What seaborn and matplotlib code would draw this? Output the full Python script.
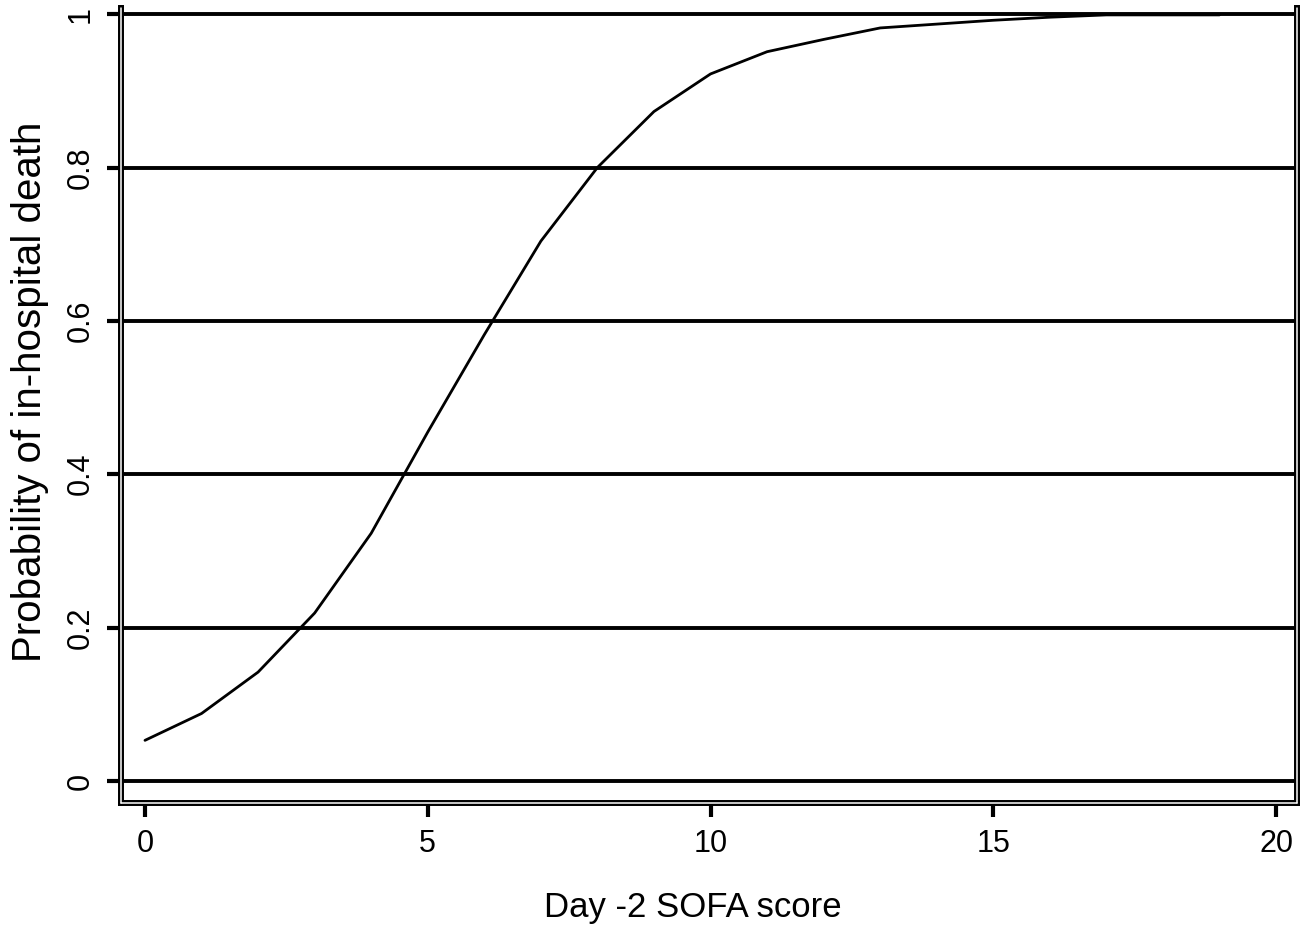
import matplotlib
matplotlib.use("Agg")
import matplotlib.pyplot as plt
import seaborn as sns
import pandas as pd

sofa = list(range(0, 20))
prob = [0.053, 0.088, 0.142, 0.219, 0.323, 0.455, 0.582, 0.704, 0.800, 0.873,
        0.922, 0.951, 0.967, 0.982, 0.987, 0.992, 0.996, 0.999, 0.999, 0.999]
yticks = [0, 0.2, 0.4, 0.6, 0.8, 1]
ytick_labels = ["0", "0.2", "0.4", "0.6", "0.8", "1"]
xticks = [0, 5, 10, 15, 20]
xtick_labels = ["0", "5", "10", "15", "20"]

df = pd.DataFrame({"sofa": sofa, "prob": prob})

sns.set_theme(style="white")
plt.rcParams["font.family"] = ["Liberation Sans", "DejaVu Sans"]

fig = plt.figure(figsize=(13.12, 9.32), dpi=100)
ax = fig.add_axes([121 / 1312, 1 - 803 / 932, (1297 - 121) / 1312, (803 - 8) / 932])

for yv in yticks:
    ax.axhline(yv, color="black", lw=2.8, zorder=1)

sns.lineplot(data=df, x="sofa", y="prob", ax=ax, color="black", lw=2.0, zorder=3)

ax.set_xlim(-0.424, 20.37)
ax.set_ylim(-0.0287, 1.008)
ax.set_xticks(xticks)
ax.set_xticklabels(xtick_labels)
ax.set_yticks(yticks)
ax.set_yticklabels(ytick_labels, rotation=90, va="center")

for s in ["left", "bottom", "right"]:
    ax.spines[s].set_visible(True)
    ax.spines[s].set_color("black")
    ax.spines[s].set_linewidth(4.3)
ax.spines["top"].set_visible(False)

# double-line look of the axis frame
for xs, ys in [([0, 0], [0, 1]), ([1, 1], [0, 1]), ([0, 1], [0, 0])]:
    ax.plot(xs, ys, transform=ax.transAxes, color="white", lw=1.1,
            clip_on=False, zorder=10)

ax.tick_params(axis="both", which="both", direction="out", length=10, width=3,
               color="black", labelsize=22, labelcolor="black")
ax.tick_params(axis="x", bottom=True, pad=9)
ax.tick_params(axis="y", left=True, pad=8)

ax.set_xlabel("Day -2 SOFA score", fontsize=25, color="black")
ax.set_ylabel("Probability of in-hospital death", fontsize=29, color="black")
ax.xaxis.label.set_va("center")
ax.yaxis.label.set_va("center")
ax.xaxis.set_label_coords(0.486, -0.132)
ax.yaxis.set_label_coords(-0.0774, 0.517)

fig.savefig("out.png", dpi=100, facecolor="white")
